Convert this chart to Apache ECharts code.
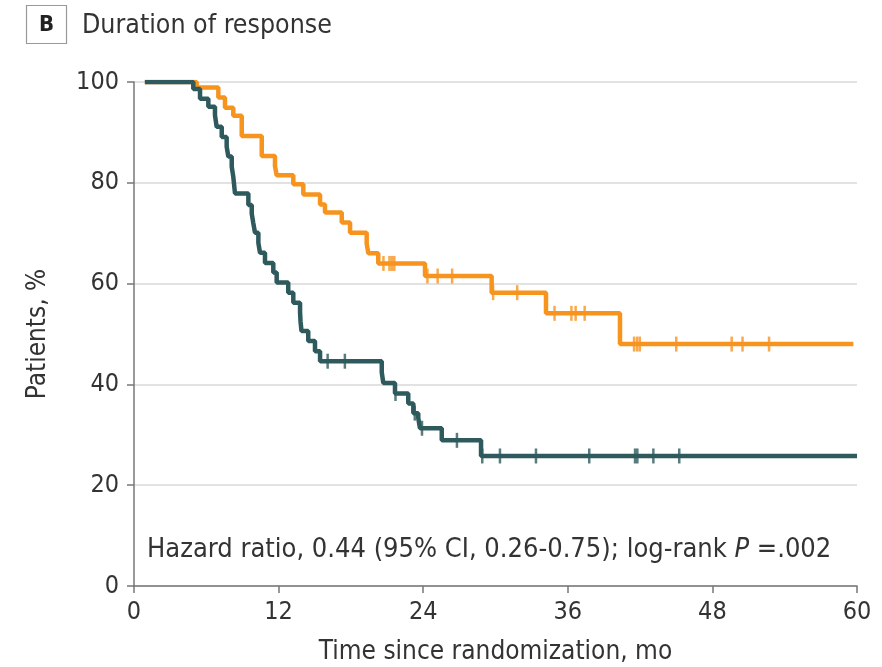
<!DOCTYPE html>
<html>
<head>
<meta charset="utf-8">
<script src="https://cdn.jsdelivr.net/npm/echarts@6/dist/echarts.min.js"></script>
<style>
  html, body { margin: 0; padding: 0; background: #fff; }
  #main { width: 882px; height: 667px; }
</style>
</head>
<body>
<div id="main"></div>
<script>
// step curve of each arm: time (mo) and % of patients still responding
var orangeTime = [0.9, 5.2, 7.0, 7.55, 8.24, 8.94, 10.6, 11.7, 11.84, 13.22, 14.05, 15.44, 15.85, 17.24, 17.93, 19.31, 19.45, 20.27, 24.15, 29.68, 34.19, 40.33, 59.7];
var orangeSurv = [100, 98.9, 96.9, 94.9, 93.3, 89.3, 85.3, 83.3, 81.5, 79.7, 77.7, 75.7, 74.1, 72.1, 70.1, 67.9, 66.0, 64.0, 61.5, 58.2, 54.1, 48.0, 48.0];
var orangeCensor = [20.7, 21.2, 21.4, 21.6, 24.35, 25.2, 26.4, 29.8, 31.8, 34.9, 36.3, 36.65, 37.4, 41.5, 41.75, 41.97, 45.0, 49.6, 50.5, 52.7];

var tealTime = [0.9, 4.92, 5.48, 6.17, 6.72, 6.86, 7.28, 7.69, 7.83, 8.11, 8.24, 8.38, 9.49, 9.77, 9.9, 10.04, 10.32, 10.46, 10.87, 11.56, 11.84, 12.8, 13.22, 13.78, 13.82, 13.9, 14.46, 15.02, 15.44, 20.56, 20.69, 21.66, 22.76, 23.18, 23.59, 23.73, 25.54, 28.8, 60];
var tealSurv = [100, 98.6, 96.7, 95.1, 93.4, 91.1, 89.1, 87.2, 85.2, 83.2, 81.2, 77.9, 75.6, 73.9, 72.0, 70.1, 68.1, 66.1, 64.1, 62.2, 60.2, 58.2, 56.2, 54.3, 52.5, 50.6, 48.6, 46.6, 44.6, 42.4, 40.3, 38.2, 36.2, 34.3, 33.3, 31.3, 28.9, 25.8, 25.8];
var tealCensor = [16.07, 17.5, 21.7, 23.3, 23.9, 26.8, 28.9, 30.37, 33.36, 37.78, 41.58, 41.77, 43.1, 45.25];

var xTicks = [0, 12, 24, 36, 48, 60];
var yTicks = [0, 20, 40, 60, 80, 100];

var ORANGE = "#F7941E";
var TEAL = "#2E5A5E";
var FONT = "'Liberation Sans Narrow', 'DejaVu Sans Condensed', 'Roboto Condensed', sans-serif";

function pairs(t, v) {
  return t.map(function (x, i) { return [x, v[i]]; });
}
// value of the step curve at a censor time
function at(t, v, x) {
  var y = v[0];
  for (var i = 0; i < t.length; i++) {
    if (t[i] <= x) y = v[i];
  }
  return y;
}
function censorPts(t, v, c) {
  return c.map(function (x) { return [x, at(t, v, x)]; });
}

var myChart = echarts.init(document.getElementById("main"));

var option = {
  animation: false,
  textStyle: { fontFamily: FONT },
  grid: { left: 134, right: 25, top: 82, bottom: 81, outerBoundsMode: "none", containLabel: false },
  title: [
    {
      text: "Duration of response",
      left: 77, top: 8,
      textStyle: { fontFamily: FONT, fontSize: 26.5, fontWeight: "normal", color: "#333" }
    },
    {
      text: "Hazard ratio, 0.44 (95% CI, 0.26-0.75); log-rank {i|P} =.002",
      left: 142, top: 531,
      textStyle: {
        fontFamily: FONT, fontSize: 27, fontWeight: "normal", color: "#333",
        rich: { i: { fontFamily: FONT, fontSize: 27, fontStyle: "italic", color: "#333" } }
      }
    }
  ],
  graphic: [
    {
      type: "rect",
      shape: { x: 26.5, y: 5.5, width: 40, height: 38 },
      style: { fill: "#fff", stroke: "#999", lineWidth: 1.2 }
    },
    {
      type: "text",
      x: 46.5, y: 25,
      style: {
        text: "B", fill: "#222", font: "bold 22px " + FONT,
        textAlign: "center", textVerticalAlign: "middle"
      }
    }
  ],
  xAxis: {
    type: "value",
    min: 0, max: 60, interval: 12,
    name: "Time since randomization, mo",
    nameLocation: "middle",
    nameGap: 53,
    nameTextStyle: { fontFamily: FONT, fontSize: 26, color: "#333" },
    axisLine: { show: true, lineStyle: { color: "#777", width: 1.5 } },
    axisTick: { show: true, length: 7, lineStyle: { color: "#777", width: 1.5 } },
    axisLabel: {
      margin: 14, fontFamily: FONT, fontSize: 25, color: "#333",
      formatter: function (v) { return xTicks.indexOf(v) >= 0 ? String(v) : ""; }
    },
    splitLine: { show: false }
  },
  yAxis: {
    type: "value",
    min: 0, max: 100, interval: 20,
    name: "Patients, %",
    nameLocation: "middle",
    nameGap: 83,
    nameRotate: 90,
    nameTextStyle: { fontFamily: FONT, fontSize: 26, color: "#333" },
    axisLine: { show: true, lineStyle: { color: "#777", width: 1.5 } },
    axisTick: { show: true, length: 7, lineStyle: { color: "#777", width: 1.5 } },
    axisLabel: {
      margin: 15, fontFamily: FONT, fontSize: 25, color: "#333",
      formatter: function (v) { return yTicks.indexOf(v) >= 0 ? String(v) : ""; }
    },
    splitLine: { show: true, lineStyle: { color: "#e2e2e2", width: 2 } }
  },
  series: [
    {
      name: "orange",
      type: "line",
      step: "end",
      symbol: "none",
      lineStyle: { color: ORANGE, width: 4.5 },
      data: pairs(orangeTime, orangeSurv),
      z: 2
    },
    {
      name: "orangeCensor",
      type: "scatter",
      symbol: "rect",
      symbolSize: [2.5, 15],
      itemStyle: { color: ORANGE },
      data: censorPts(orangeTime, orangeSurv, orangeCensor),
      z: 3
    },
    {
      name: "teal",
      type: "line",
      step: "end",
      symbol: "none",
      lineStyle: { color: TEAL, width: 4.5 },
      data: pairs(tealTime, tealSurv),
      z: 4
    },
    {
      name: "tealCensor",
      type: "scatter",
      symbol: "rect",
      symbolSize: [2.5, 15],
      itemStyle: { color: TEAL },
      data: censorPts(tealTime, tealSurv, tealCensor),
      z: 5
    }
  ]
};

myChart.setOption(option);
</script>
</body>
</html>
